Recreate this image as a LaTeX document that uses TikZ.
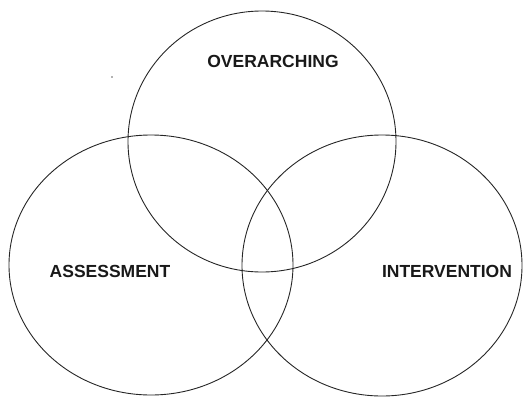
\documentclass[tikz,border=0pt]{standalone}
\usepackage{fontspec}
\setmainfont{Liberation Sans}
\usetikzlibrary{shapes}

\begin{document}
\begin{tikzpicture}[x=1pt, y=-1pt]
	\def \lw {0.9pt}
	\tikzset{
		set/.style={draw=black!85, line width=\lw, ellipse, inner sep=0pt},
		setlabel/.style={font=\fontsize{17.5}{20}\selectfont\bfseries, text=black!90}
	}
	\useasboundingbox (0,0) rectangle (525,397);

	\node[set, minimum width=268pt, minimum height=261pt] (overarching) at (262,141.5) {};
	\node[set, minimum width=284pt, minimum height=260pt] (assessment)  at (151,265) {};
	\node[set, minimum width=280pt, minimum height=261pt] (intervention) at (382,265.5) {};

	\node[setlabel] (overarchinglabel)  at (273,61)  {OVERARCHING};
	\node[setlabel] (assessmentlabel)   at (110,271) {ASSESSMENT};
	\node[setlabel] (interventionlabel) at (447,271) {INTERVENTION};

	\node[circle, fill=black!60, inner sep=0.6pt] (speck) at (112,77) {};
\end{tikzpicture}
\end{document}
